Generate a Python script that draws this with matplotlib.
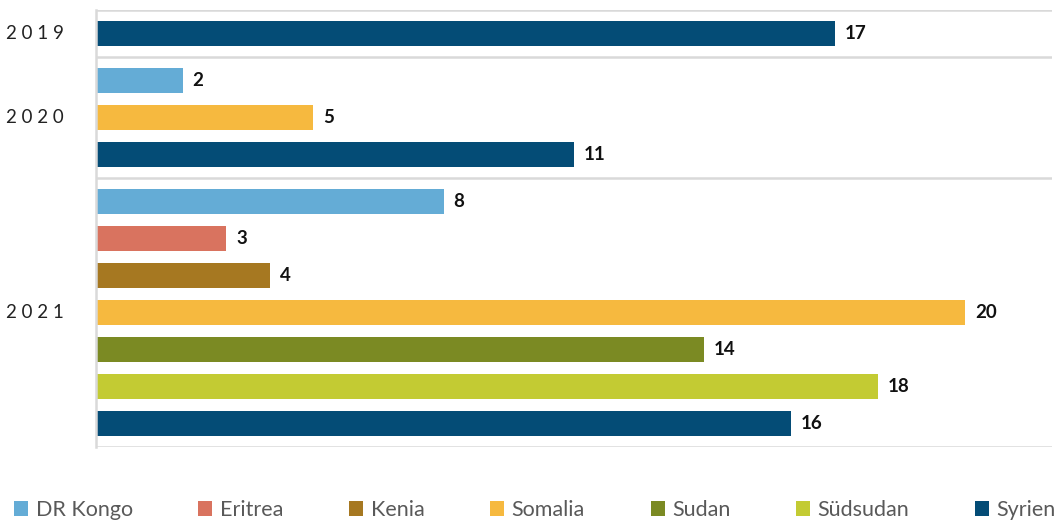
import matplotlib
matplotlib.use("Agg")
import matplotlib.pyplot as plt
from matplotlib.patches import Patch

# ---- data ----
years = ["2019", "2020", "2021"]
countries = ["DR Kongo", "Eritrea", "Kenia", "Somalia", "Sudan", "Südsudan", "Syrien"]
colors = ["#64acd6", "#d9735f", "#a67821", "#f6b93f", "#7b8a23", "#c3cb33", "#044c76"]
group_countries = [
    ["Syrien"],
    ["DR Kongo", "Somalia", "Syrien"],
    ["DR Kongo", "Eritrea", "Kenia", "Somalia", "Sudan", "Südsudan", "Syrien"],
]
group_values = [
    [17],
    [2, 5, 11],
    [8, 3, 4, 20, 14, 18, 16],
]

color_of = dict(zip(countries, colors))

plt.rcParams['font.family'] = ['Lato', 'DejaVu Sans']

fig = plt.figure(figsize=(10.57, 5.22), dpi=100)
ax = fig.add_axes([96/1057, 75/522, 956/1057, 437/522])

pad = 0.27
bar_h = 0.65
grid_c = "#d9d9d9"
start = 0.0
boundaries = [0.0]
for yr, cs, vs in zip(years, group_countries, group_values):
    n = len(cs)
    gh = n + pad
    for i, (c, v) in enumerate(zip(cs, vs)):
        y = start + pad / 2 + i + 0.5
        ax.barh(y, v, height=bar_h, color=color_of[c], edgecolor='none')
        ax.annotate(str(v), xy=(v, y), xytext=(7, 0), textcoords='offset points',
                    ha='left', va='center', fontsize=13.5, fontweight='bold', color='#111111')
    ax.annotate(" ".join(yr), xy=(0, start + gh / 2), xycoords=ax.get_yaxis_transform(),
                xytext=(-23, 0), textcoords='offset points', ha='right', va='center',
                fontsize=13.5, color='#222222')
    start += gh
    boundaries.append(start)

for b in boundaries:
    ax.axhline(b, color=grid_c, lw=1.8, zorder=0)

ax.set_xlim(0, 22)
ax.set_ylim(start, 0)
for s in ['top', 'right', 'bottom']:
    ax.spines[s].set_visible(False)
ax.spines['left'].set_color(grid_c)
ax.spines['left'].set_linewidth(1.8)
ax.set_xticks([])
ax.set_yticks([])

handles = [Patch(facecolor=color_of[c], label=c) for c in countries]
leg = fig.legend(handles=handles, loc='center', ncol=7, mode='expand',
                 bbox_to_anchor=(14/1057, 0, 1042/1057, 24/522), frameon=False,
                 fontsize=15.5, handlelength=0.65, handleheight=0.65, handletextpad=0.35,
                 borderaxespad=0, borderpad=0)
for t in leg.get_texts():
    t.set_color('#595959')

fig.savefig("out.png", dpi=100)
